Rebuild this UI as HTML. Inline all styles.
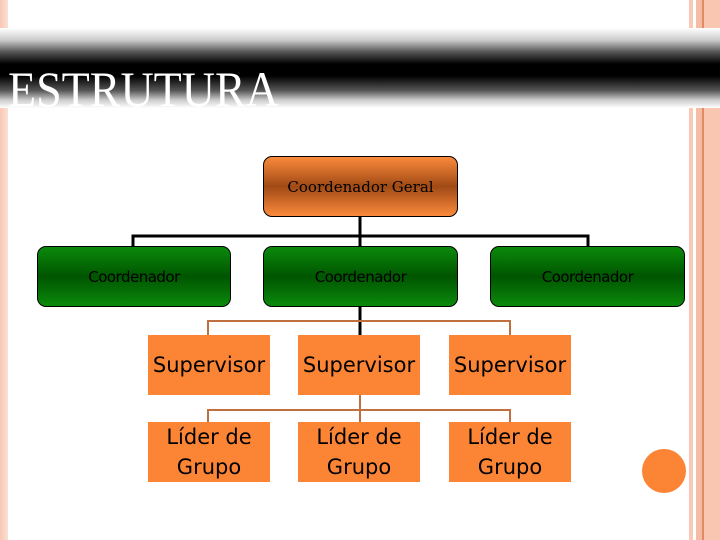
<!DOCTYPE html>
<html><head><style>
body{margin:0;width:720px;height:540px;position:relative;overflow:hidden;background:#fff;font-family:"DejaVu Sans","Liberation Sans",sans-serif}
.a{position:absolute}
.band{left:0;top:28px;width:720px;height:80px;background:linear-gradient(#fff 0%,#ccc 15%,#555 30%,#000 45%,#000 60%,#555 78%,#ccc 90%,#fff 100%)}
.t{left:8px;top:62px;color:#fff;font-family:"Liberation Serif",serif;font-size:50px;line-height:54px;transform:scaleX(.92);transform-origin:left}
.g{background:linear-gradient(#0b8a0b,#005500 50%,#0b8a0b);border:1px solid #000;border-radius:9px;box-sizing:border-box;height:61px;font-size:15px;color:#000;display:flex;align-items:center;justify-content:center;letter-spacing:-0.5px}
.o{background:#fb8535;box-sizing:border-box;font-size:21px;color:#000;display:flex;align-items:center;justify-content:center;text-align:center;line-height:30px}
</style></head><body>
<div class="a" style="left:0;top:0;width:8px;height:540px;background:linear-gradient(90deg,#f8c8b4,#fbe0d4)"></div>
<div class="a" style="left:689px;top:0;width:4px;height:540px;background:#f9c9b6"></div>
<div class="a" style="left:696px;top:0;width:6px;height:540px;background:#f6bba3"></div>
<div class="a" style="left:702px;top:0;width:2px;height:540px;background:#e08a68"></div>
<div class="a" style="left:704px;top:0;width:16px;height:540px;background:#f8c6b1"></div>
<div class="a band"></div>
<div class="a t">ESTRUTURA</div>
<svg class="a" style="left:0;top:0" width="720" height="540">
<g stroke="#000" stroke-width="3" fill="none">
<path d="M360 216V246M133 246V236H588V246"/>
<path d="M360 306V335"/>
</g>
<g stroke="#c07040" stroke-width="2" fill="none">
<path d="M208 335V321H510V335M360 395V410M208 422V410H510V422M360 410V422"/>
</g>
</svg>
<div class="a" style="left:263px;top:156px;width:195px;height:61px;border:1px solid #000;border-radius:9px;box-sizing:border-box;background:linear-gradient(#fb8a3c,#a04a15 50%,#fb8a3c);display:flex;align-items:center;justify-content:center;font-family:'DejaVu Serif','Liberation Serif',serif;font-size:15px">Coordenador Geral</div>
<div class="a g" style="left:37px;top:246px;width:194px">Coordenador</div>
<div class="a g" style="left:263px;top:246px;width:195px">Coordenador</div>
<div class="a g" style="left:490px;top:246px;width:195px">Coordenador</div>
<div class="a o" style="left:148px;top:335px;width:122px;height:60px">Supervisor</div>
<div class="a o" style="left:298px;top:335px;width:122px;height:60px">Supervisor</div>
<div class="a o" style="left:449px;top:335px;width:122px;height:60px">Supervisor</div>
<div class="a o" style="left:148px;top:422px;width:122px;height:60px">Líder de<br>Grupo</div>
<div class="a o" style="left:298px;top:422px;width:122px;height:60px">Líder de<br>Grupo</div>
<div class="a o" style="left:449px;top:422px;width:122px;height:60px">Líder de<br>Grupo</div>
<div class="a" style="left:642px;top:449px;width:44px;height:44px;border-radius:50%;background:#fb8535"></div>
</body></html>
